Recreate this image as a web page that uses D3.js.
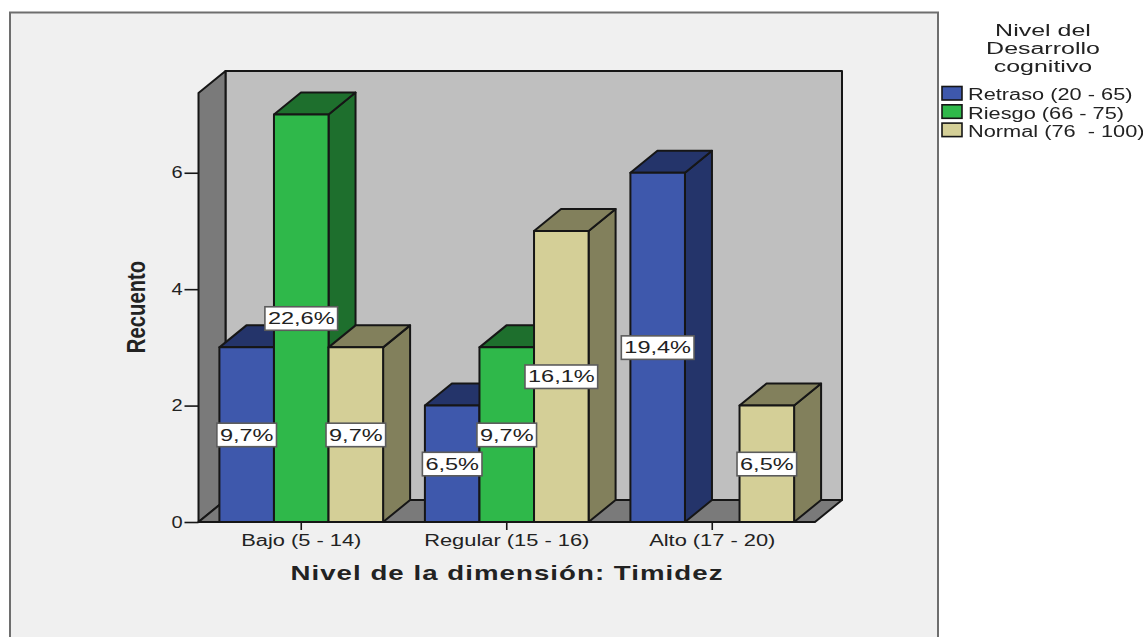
<!DOCTYPE html>
<html>
<head>
<meta charset="utf-8">
<script src="https://cdn.jsdelivr.net/npm/d3@7"></script>
<style>
  html, body { margin: 0; padding: 0; background: #fff; }
  svg { display: block; filter: blur(0.45px); }
  text { font-family: "Liberation Sans", Arial, sans-serif; fill: #222; }
</style>
</head>
<body>
<div id="vis"></div>
<script>
// Data
const categories = ["Bajo (5 - 14)", "Regular (15 - 16)", "Alto (17 - 20)"];
const seriesNames = ["Retraso (20 - 65)", "Riesgo (66 - 75)", "Normal (76  - 100)"];
const retraso = [3, 2, 6];
const riesgo = [7, 3, 0];
const normal = [3, 5, 2];
const retrasoLabels = ["9,7%", "6,5%", "19,4%"];
const riesgoLabels = ["22,6%", "9,7%", ""];
const normalLabels = ["9,7%", "16,1%", "6,5%"];
const yTicks = [0, 2, 4, 6];
const legendTitle = ["Nivel del", "Desarrollo", "cognitivo"];

const FRAME_WIDTH = 1143;
const FRAME_HEIGHT = 637;
const DEPTH_X = 27;
const DEPTH_Y = 22;

const FACE = ["#3e58ac", "#2fb84a", "#d4cf97"];
const SHADE = ["#24346a", "#1e6f2d", "#82805c"];
const LINE = "#161616";

const FRAME = d3.select("#vis").append("svg")
  .attr("width", FRAME_WIDTH)
  .attr("height", FRAME_HEIGHT);

// Scales
const Y_SCALE = d3.scaleLinear().domain([0, 7.37]).range([522, 93]);
const X_SCALE = d3.scaleBand().domain(categories).range([198.5, 815]);
const X_INNER = d3.scaleBand().domain(seriesNames)
  .range([0, X_SCALE.bandwidth()])
  .paddingInner(0).paddingOuter(0.383);

// squeeze or widen text horizontally, the original picture is stretched
function stretch(sel, k) {
  sel.each(function () {
    const w = this.getComputedTextLength();
    d3.select(this).attr("textLength", w * k).attr("lengthAdjust", "spacingAndGlyphs");
  });
  return sel;
}

function poly(points, fill) {
  return FRAME.append("polygon")
    .attr("points", points.map(p => p.join(",")).join(" "))
    .attr("fill", fill)
    .attr("stroke", LINE)
    .attr("stroke-width", 2)
    .attr("stroke-linejoin", "round");
}

// Outer panel
FRAME.append("rect")
  .attr("x", 10).attr("y", 12.5)
  .attr("width", 928).attr("height", 640)
  .attr("fill", "#f0f0f0")
  .attr("stroke", "#6e6e6e")
  .attr("stroke-width", 2);

// 3D walls
const x0 = X_SCALE.range()[0], x1 = X_SCALE.range()[1];
const yBase = Y_SCALE(0), yTop = Y_SCALE.range()[1];
poly([[x0 + DEPTH_X, yTop - DEPTH_Y], [x1 + DEPTH_X, yTop - DEPTH_Y],
      [x1 + DEPTH_X, yBase - DEPTH_Y], [x0 + DEPTH_X, yBase - DEPTH_Y]], "#bfbfbf");
poly([[x0, yTop], [x0 + DEPTH_X, yTop - DEPTH_Y],
      [x0 + DEPTH_X, yBase - DEPTH_Y], [x0, yBase]], "#7a7a7a");
poly([[x0, yBase], [x0 + DEPTH_X, yBase - DEPTH_Y],
      [x1 + DEPTH_X, yBase - DEPTH_Y], [x1, yBase]], "#7a7a7a");

// Axes
const Y_AXIS = FRAME.append("g")
  .attr("transform", "translate(" + x0 + ",0)")
  .call(d3.axisLeft(Y_SCALE).tickValues(yTicks).tickSize(14).tickPadding(2).tickFormat(d3.format("d")));
const X_AXIS = FRAME.append("g")
  .attr("transform", "translate(0," + yBase + ")")
  .call(d3.axisBottom(X_SCALE).tickSize(8).tickPadding(5));
[Y_AXIS, X_AXIS].forEach(a => {
  a.select(".domain").remove();
  a.selectAll("line").attr("stroke", LINE).attr("stroke-width", 1.6);
  a.selectAll("text").attr("font-size", 16).attr("fill", "#222");
});
stretch(Y_AXIS.selectAll("text"), 1.25);
stretch(X_AXIS.selectAll("text"), 1.365);

// Bars, painted left to right so that each one covers its neighbour's side
const barValues = [retraso, riesgo, normal];
const barLabels = [retrasoLabels, riesgoLabels, normalLabels];
const labelLayer = [];
categories.forEach((cat, c) => {
  seriesNames.forEach((name, s) => {
    const v = barValues[s][c];
    if (!v) return;
    const left = X_SCALE(cat) + X_INNER(name);
    const right = left + X_INNER.bandwidth();
    const top = Y_SCALE(v);
    poly([[right, top], [right + DEPTH_X, top - DEPTH_Y],
          [right + DEPTH_X, yBase - DEPTH_Y], [right, yBase]], SHADE[s]);
    poly([[left, top], [left + DEPTH_X, top - DEPTH_Y],
          [right + DEPTH_X, top - DEPTH_Y], [right, top]], SHADE[s]);
    poly([[left, top], [right, top], [right, yBase], [left, yBase]], FACE[s]);
    labelLayer.push({ x: (left + right) / 2, y: Y_SCALE(v / 2), text: barLabels[s][c] });
  });
});

// Percent labels
labelLayer.forEach(d => {
  const g = FRAME.append("g").attr("transform", "translate(" + d.x + "," + d.y + ")");
  const box = g.append("rect");
  const t = g.append("text")
    .attr("text-anchor", "middle").attr("y", 6)
    .attr("font-size", 16).text(d.text);
  const w = t.node().getComputedTextLength() * 1.47 + 6;
  stretch(t, 1.47);
  box.attr("x", -w / 2).attr("y", -11.5).attr("width", w).attr("height", 23.5)
    .attr("fill", "#fff").attr("stroke", "#5c5c5c").attr("stroke-width", 1.6);
});

// Axis titles
stretch(FRAME.append("text")
  .attr("x", 507).attr("y", 580)
  .attr("text-anchor", "middle")
  .attr("font-size", 21).attr("font-weight", "bold").attr("fill", "#111")
  .attr("letter-spacing", 0.8)
  .text("Nivel de la dimensión: Timidez"), 1.315);
stretch(FRAME.append("text")
  .attr("transform", "translate(145,307) rotate(-90)")
  .attr("text-anchor", "middle")
  .attr("font-size", 25).attr("font-weight", "bold").attr("fill", "#111")
  .text("Recuento"), 0.81);

// Legend
legendTitle.forEach((line, i) => {
  stretch(FRAME.append("text")
    .attr("x", 1043).attr("y", 36 + i * 18)
    .attr("text-anchor", "middle")
    .attr("font-size", 16)
    .text(line), 1.56);
});
seriesNames.forEach((name, i) => {
  FRAME.append("rect")
    .attr("x", 942).attr("y", 86.5 + i * 18.3)
    .attr("width", 20).attr("height", 13.5)
    .attr("fill", FACE[i]).attr("stroke", LINE).attr("stroke-width", 1.6);
  stretch(FRAME.append("text")
    .attr("x", 968).attr("y", 100 + i * 18.5)
    .attr("font-size", 16)
    .style("white-space", "pre")
    .text(name), 1.36);
});
</script>
</body>
</html>
